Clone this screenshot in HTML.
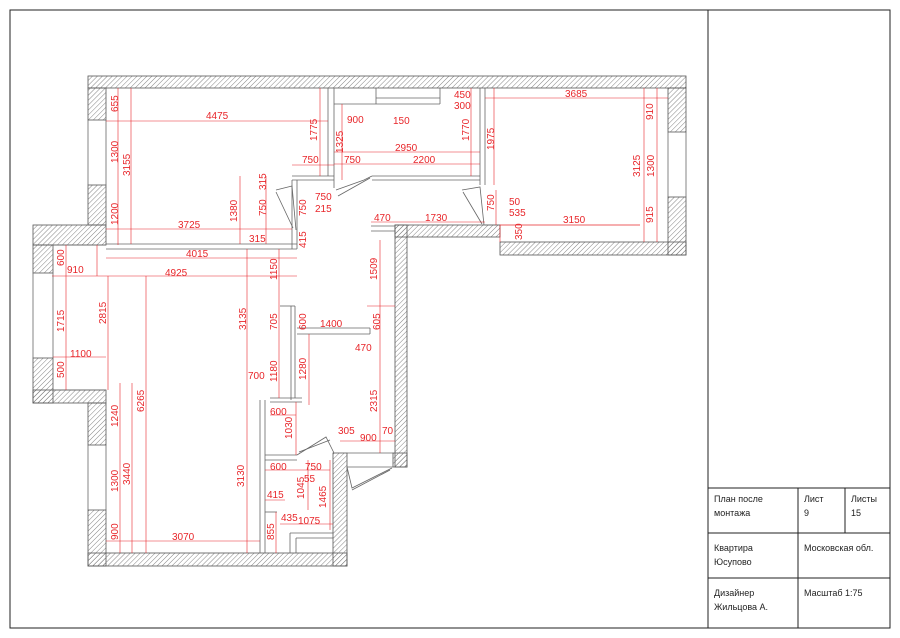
<!DOCTYPE html>
<html><head><meta charset="utf-8"><style>
html,body{margin:0;padding:0;background:#fff}
svg{display:block}
.r{fill:#e8262a;font-family:"Liberation Sans",sans-serif;font-size:10px}
.t{fill:#222;font-family:"Liberation Sans","Noto Sans CJK SC",sans-serif;font-size:9px}
</style></head><body>
<svg width="900" height="638" viewBox="0 0 900 638" xmlns="http://www.w3.org/2000/svg">
<defs>
<pattern id="h" width="3.5" height="3.5" patternUnits="userSpaceOnUse" patternTransform="rotate(45)">
<line x1="0" y1="0" x2="0" y2="3.5" stroke="#777" stroke-width="0.9"/>
</pattern>
</defs>
<rect width="900" height="638" fill="#fff"/>
<rect x="10" y="10" width="880" height="618" fill="none" stroke="#222" stroke-width="1"/>
<line x1="708" y1="10" x2="708" y2="628" stroke="#222"/>
<line x1="708" y1="488" x2="890" y2="488" stroke="#222"/>
<line x1="708" y1="533" x2="890" y2="533" stroke="#222"/>
<line x1="708" y1="578" x2="890" y2="578" stroke="#222"/>
<line x1="798" y1="488" x2="798" y2="628" stroke="#222"/>
<line x1="845" y1="488" x2="845" y2="533" stroke="#222"/>
<text class="t" x="714" y="502">План после</text>
<text class="t" x="714" y="516">монтажа</text>
<text class="t" x="804" y="502">Лист</text>
<text class="t" x="804" y="516">9</text>
<text class="t" x="851" y="502">Листы</text>
<text class="t" x="851" y="516">15</text>
<text class="t" x="714" y="551">Квартира</text>
<text class="t" x="714" y="565">Юсупово</text>
<text class="t" x="804" y="551">Московская обл.</text>
<text class="t" x="714" y="596">Дизайнер</text>
<text class="t" x="714" y="610">Жильцова А.</text>
<text class="t" x="804" y="596">Масштаб   1:75</text>

<g fill="url(#h)" stroke="#555" stroke-width="0.8">
<rect x="88" y="76" width="598" height="12"/>
<rect x="88" y="88" width="18" height="32"/>
<rect x="88" y="185" width="18" height="40"/>
<rect x="33" y="225" width="73" height="20"/>
<rect x="33" y="245" width="20" height="28"/>
<rect x="33" y="358" width="20" height="45"/>
<rect x="33" y="390" width="73" height="13"/>
<rect x="88" y="403" width="18" height="42"/>
<rect x="88" y="510" width="18" height="56"/>
<rect x="88" y="553" width="259" height="13"/>
<rect x="333" y="453" width="14" height="113"/>
<rect x="393" y="453" width="14" height="14"/>
<rect x="395" y="225" width="12" height="242"/>
<rect x="395" y="225" width="105" height="12"/>
<rect x="500" y="242" width="186" height="13"/>
<rect x="668" y="88" width="18" height="44"/>
<rect x="668" y="197" width="18" height="58"/>
</g>
<g fill="none" stroke="#666" stroke-width="0.8">
<line x1="88" y1="120" x2="88" y2="185"/><line x1="106" y1="120" x2="106" y2="185"/>
<line x1="33" y1="273" x2="33" y2="358"/><line x1="53" y1="273" x2="53" y2="358"/>
<line x1="88" y1="445" x2="88" y2="510"/><line x1="106" y1="445" x2="106" y2="510"/>
<line x1="668" y1="132" x2="668" y2="197"/><line x1="686" y1="132" x2="686" y2="197"/>
<line x1="53" y1="245" x2="106" y2="245"/>
<line x1="53" y1="390" x2="106" y2="390"/>
<line x1="106" y1="244" x2="297" y2="244"/><line x1="106" y1="249" x2="297" y2="249"/>
<line x1="328" y1="88" x2="328" y2="176"/><line x1="334" y1="88" x2="334" y2="188"/>
<line x1="292" y1="176" x2="334" y2="176"/><line x1="292" y1="180" x2="334" y2="180"/>
<line x1="292" y1="180" x2="292" y2="249"/><line x1="297" y1="180" x2="297" y2="249"/>
<line x1="372" y1="176" x2="480" y2="176"/><line x1="372" y1="180" x2="480" y2="180"/>
<line x1="480" y1="88" x2="480" y2="185"/><line x1="485" y1="88" x2="485" y2="185"/>
<line x1="334" y1="104" x2="440" y2="104"/><line x1="376" y1="88" x2="376" y2="104"/>
<line x1="376" y1="98" x2="440" y2="98"/><line x1="440" y1="88" x2="440" y2="104"/>
<line x1="371" y1="226" x2="395" y2="226"/><line x1="371" y1="231" x2="395" y2="231"/>
<line x1="485" y1="225" x2="500" y2="225"/>
<line x1="500" y1="225" x2="640" y2="225" stroke="#e8262a"/>
<line x1="280" y1="306" x2="295" y2="306"/>
<line x1="291" y1="306" x2="291" y2="400"/><line x1="295" y1="306" x2="295" y2="398"/>
<line x1="297" y1="328" x2="370" y2="328"/><line x1="297" y1="334" x2="370" y2="334"/>
<line x1="370" y1="328" x2="370" y2="334"/>
<line x1="270" y1="398" x2="302" y2="398"/><line x1="270" y1="402" x2="302" y2="402"/>
<line x1="260" y1="400" x2="260" y2="553"/><line x1="265" y1="400" x2="265" y2="553"/>
<line x1="265" y1="455" x2="297" y2="455"/><line x1="265" y1="460" x2="297" y2="460"/>
<line x1="347" y1="453" x2="393" y2="453"/><line x1="347" y1="467" x2="393" y2="467"/>
<line x1="290" y1="533" x2="333" y2="533"/><line x1="290" y1="533" x2="290" y2="553"/>
<line x1="296" y1="538" x2="333" y2="538"/><line x1="296" y1="538" x2="296" y2="553"/>
<line x1="265" y1="512" x2="277" y2="512"/>
<path d="M276,190 L292,186 L296,230"/><path d="M276,192 L293,228"/>
<path d="M336,190 L364,180 L372,176"/><path d="M338,196 L370,178"/>
<path d="M462,190 L480,187 L484,225"/><path d="M463,192 L482,224"/>
<path d="M297,455 L326,437 L334,453"/><path d="M299,452 L330,440"/>
<path d="M347,467 L352,488 L392,468"/><path d="M352,490 L390,470"/>
</g>
<g stroke="#e8262a" stroke-width="0.6" fill="none">
<line x1="106" y1="121" x2="328" y2="121"/>
<line x1="118" y1="88" x2="118" y2="245"/>
<line x1="131" y1="88" x2="131" y2="244"/>
<line x1="106" y1="229" x2="292" y2="229"/>
<line x1="240" y1="176" x2="240" y2="244"/>
<line x1="266" y1="176" x2="266" y2="244"/>
<line x1="292" y1="165" x2="334" y2="165"/>
<line x1="320" y1="88" x2="320" y2="176"/>
<line x1="342" y1="104" x2="342" y2="180"/>
<line x1="334" y1="152" x2="480" y2="152"/>
<line x1="334" y1="164" x2="480" y2="164"/>
<line x1="471" y1="88" x2="471" y2="176"/>
<line x1="494" y1="88" x2="494" y2="185"/>
<line x1="485" y1="98" x2="668" y2="98"/>
<line x1="644" y1="88" x2="644" y2="242"/>
<line x1="657" y1="88" x2="657" y2="242"/>
<line x1="371" y1="222" x2="485" y2="222"/>
<line x1="500" y1="225" x2="500" y2="242"/>
<line x1="496" y1="190" x2="496" y2="225"/>
<line x1="106" y1="258" x2="297" y2="258"/>
<line x1="52" y1="276" x2="297" y2="276"/>
<line x1="97" y1="245" x2="97" y2="276"/>
<line x1="66" y1="245" x2="66" y2="390"/>
<line x1="108" y1="276" x2="108" y2="390"/>
<line x1="53" y1="357" x2="106" y2="357"/>
<line x1="146" y1="276" x2="146" y2="553"/>
<line x1="247" y1="249" x2="247" y2="400"/>
<line x1="279" y1="249" x2="279" y2="398"/>
<line x1="309" y1="334" x2="309" y2="405"/>
<line x1="380" y1="240" x2="380" y2="453"/>
<line x1="367" y1="306" x2="395" y2="306"/>
<line x1="120" y1="383" x2="120" y2="553"/>
<line x1="132" y1="383" x2="132" y2="553"/>
<line x1="106" y1="541" x2="260" y2="541"/>
<line x1="247" y1="400" x2="247" y2="553"/>
<line x1="270" y1="415" x2="296" y2="415"/>
<line x1="296" y1="402" x2="296" y2="455"/>
<line x1="265" y1="470" x2="330" y2="470"/>
<line x1="308" y1="460" x2="308" y2="510"/>
<line x1="330" y1="460" x2="330" y2="530"/>
<line x1="340" y1="441" x2="395" y2="441"/>
<line x1="265" y1="500" x2="285" y2="500"/>
<line x1="280" y1="524" x2="333" y2="524"/>
<line x1="276" y1="512" x2="276" y2="553"/>
</g>
<g class="r">
<text x="206" y="119">4475</text>
<text x="347" y="123">900</text>
<text x="393" y="124">150</text>
<text x="454" y="98">450</text>
<text x="454" y="109">300</text>
<text x="565" y="97">3685</text>
<text x="302" y="163">750</text>
<text x="344" y="163">750</text>
<text x="395" y="151">2950</text>
<text x="413" y="163">2200</text>
<text x="315" y="200">750</text>
<text x="315" y="212">215</text>
<text x="178" y="228">3725</text>
<text x="249" y="242">315</text>
<text x="374" y="221">470</text>
<text x="425" y="221">1730</text>
<text x="509" y="205">50</text>
<text x="509" y="216">535</text>
<text x="563" y="223">3150</text>
<text x="186" y="257">4015</text>
<text x="67" y="273">910</text>
<text x="165" y="276">4925</text>
<text x="320" y="327">1400</text>
<text x="355" y="351">470</text>
<text x="70" y="357">1100</text>
<text x="248" y="379">700</text>
<text x="270" y="415">600</text>
<text x="338" y="434">305</text>
<text x="360" y="441">900</text>
<text x="382" y="434">70</text>
<text x="270" y="470">600</text>
<text x="305" y="470">750</text>
<text x="304" y="482">55</text>
<text x="267" y="498">415</text>
<text x="281" y="521">435</text>
<text x="298" y="524">1075</text>
<text x="172" y="540">3070</text>
</g>
<g class="r">
<text transform="translate(118,112) rotate(-90)">655</text>
<text transform="translate(118,163) rotate(-90)">1300</text>
<text transform="translate(130,176) rotate(-90)">3155</text>
<text transform="translate(118,225) rotate(-90)">1200</text>
<text transform="translate(317,141) rotate(-90)">1775</text>
<text transform="translate(343,153) rotate(-90)">1325</text>
<text transform="translate(469,141) rotate(-90)">1770</text>
<text transform="translate(494,150) rotate(-90)">1975</text>
<text transform="translate(653,120) rotate(-90)">910</text>
<text transform="translate(640,177) rotate(-90)">3125</text>
<text transform="translate(654,177) rotate(-90)">1300</text>
<text transform="translate(653,223) rotate(-90)">915</text>
<text transform="translate(237,222) rotate(-90)">1380</text>
<text transform="translate(266,190) rotate(-90)">315</text>
<text transform="translate(266,216) rotate(-90)">750</text>
<text transform="translate(306,216) rotate(-90)">750</text>
<text transform="translate(306,248) rotate(-90)">415</text>
<text transform="translate(494,211) rotate(-90)">750</text>
<text transform="translate(522,240) rotate(-90)">350</text>
<text transform="translate(64,266) rotate(-90)">600</text>
<text transform="translate(64,332) rotate(-90)">1715</text>
<text transform="translate(106,324) rotate(-90)">2815</text>
<text transform="translate(64,378) rotate(-90)">500</text>
<text transform="translate(277,280) rotate(-90)">1150</text>
<text transform="translate(246,330) rotate(-90)">3135</text>
<text transform="translate(277,330) rotate(-90)">705</text>
<text transform="translate(306,330) rotate(-90)">600</text>
<text transform="translate(380,330) rotate(-90)">605</text>
<text transform="translate(377,280) rotate(-90)">1509</text>
<text transform="translate(277,382) rotate(-90)">1180</text>
<text transform="translate(306,380) rotate(-90)">1280</text>
<text transform="translate(377,412) rotate(-90)">2315</text>
<text transform="translate(292,439) rotate(-90)">1030</text>
<text transform="translate(118,427) rotate(-90)">1240</text>
<text transform="translate(144,412) rotate(-90)">6265</text>
<text transform="translate(118,492) rotate(-90)">1300</text>
<text transform="translate(130,485) rotate(-90)">3440</text>
<text transform="translate(118,540) rotate(-90)">900</text>
<text transform="translate(244,487) rotate(-90)">3130</text>
<text transform="translate(304,499) rotate(-90)">1045</text>
<text transform="translate(326,508) rotate(-90)">1465</text>
<text transform="translate(274,540) rotate(-90)">855</text>
</g>
</svg>
</body></html>
